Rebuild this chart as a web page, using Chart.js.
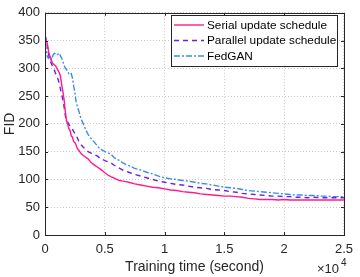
<!DOCTYPE html>
<html>
<head>
<meta charset="utf-8">
<script src="https://cdn.jsdelivr.net/npm/chart.js@4"></script>
<style>
  html, body { margin: 0; padding: 0; background: #fff; overflow: hidden; }
  canvas { display: block; }
</style>
</head>
<body>
<canvas id="fid-chart" width="360" height="277"></canvas>
<script>
// training time (seconds)
const times = [0, 100, 200, 300, 400, 500, 600, 700, 800, 900, 1000, 1100, 1200, 1300, 1400, 1500, 1600, 1700, 1800, 1900,
  2000, 2100, 2200, 2300, 2400, 2500, 2600, 2700, 2800, 2900, 3000, 3200, 3400, 3600, 3800, 4000, 4200, 4400, 4600, 4800,
  5000, 5250, 5500, 5750, 6000, 6250, 6500, 6750, 7000, 7500, 8000, 8500, 9000, 9500, 10000, 10500, 11000, 11500, 12000, 12500,
  13000, 13500, 14000, 14500, 15000, 15500, 16000, 16500, 17000, 17500, 18000, 18500, 19000, 19500, 20000, 20500, 21000, 21500, 22000, 22500,
  23000, 23500, 24000, 24500, 25000];

const serialFid = [356, 350, 344, 330, 322, 318, 310, 308, 306, 304, 300, 296, 292, 285, 270, 258, 243, 222, 205, 200,
  191, 188, 178, 176, 168, 166, 162, 156, 153, 150, 147, 143, 140, 137, 132, 128, 125, 122, 119, 116,
  112, 108, 105, 103, 100, 98, 97, 96, 95, 92, 90, 88, 86, 85, 83, 81, 80, 78, 77, 76,
  74, 73, 72, 71, 70, 70, 69, 68, 66, 65, 64, 64, 64, 63, 64, 63, 63, 63, 63, 63,
  63, 63, 63, 63, 63];

const parallelFid = [360, 352, 340, 325, 315, 310, 305, 300, 296, 290, 286, 280, 272, 262, 253, 242, 230, 215, 206, 203,
  199, 196, 194, 190, 186, 183, 180, 175, 170, 166, 163, 158, 154, 150, 148, 146, 144, 142, 138, 136,
  134, 132, 130, 126, 123, 120, 117, 115, 113, 109, 106, 103, 100, 97, 95, 93, 91, 90, 88, 86,
  85, 84, 82, 81, 80, 78, 77, 75, 74, 73, 72, 71, 70, 70, 69, 69, 68, 68, 67, 68,
  67, 67, 67, 67, 67];

const fedganFid = [345, 335, 320, 318, 322, 316, 320, 325, 327, 326, 324, 326, 327, 322, 318, 312, 305, 300, 298, 294,
  290, 288, 290, 282, 268, 256, 240, 232, 225, 218, 210, 200, 190, 181, 175, 170, 165, 160, 155, 153,
  150, 148, 146, 140, 136, 134, 130, 127, 125, 120, 117, 113, 110, 106, 103, 101, 100, 98, 97, 95,
  93, 92, 90, 88, 86, 85, 84, 82, 80, 79, 78, 77, 76, 75, 74, 73, 72, 72, 71, 71,
  70, 70, 69, 69, 69];

const seriesNames = ["Serial update schedule", "Parallel update schedule", "FedGAN"];
const xTicks = [0, 5000, 10000, 15000, 20000, 25000];
const yTicks = [0, 50, 100, 150, 200, 250, 300, 350, 400];

const FONT = "'Liberation Sans', Arial, Helvetica, sans-serif";
const AXIS_COLOR = "#262626";

const toPoints = (vals) => vals.map((v, i) => ({ x: times[i], y: v }));

// Box with inward ticks, MATLAB style
const boxPlugin = {
  id: "box",
  afterDatasetsDraw(chart) {
    const { ctx, chartArea: a, scales } = chart;
    ctx.save();
    ctx.strokeStyle = AXIS_COLOR;
    ctx.lineWidth = 1;
    ctx.strokeRect(Math.round(a.left) + 0.5, Math.round(a.top) + 0.5,
      Math.round(a.right - a.left), Math.round(a.bottom - a.top));
    const len = 3;
    ctx.beginPath();
    xTicks.forEach((t) => {
      const px = Math.round(scales.x.getPixelForValue(t)) + 0.5;
      ctx.moveTo(px, a.bottom); ctx.lineTo(px, a.bottom - len);
      ctx.moveTo(px, a.top); ctx.lineTo(px, a.top + len);
    });
    yTicks.forEach((t) => {
      const py = Math.round(scales.y.getPixelForValue(t)) + 0.5;
      ctx.moveTo(a.left, py); ctx.lineTo(a.left + len, py);
      ctx.moveTo(a.right, py); ctx.lineTo(a.right - len, py);
    });
    ctx.stroke();

    // exponent label
    ctx.fillStyle = AXIS_COLOR;
    ctx.textBaseline = "alphabetic";
    ctx.textAlign = "left";
    ctx.font = "13px " + FONT;
    ctx.fillText("\u00d710", 317, 273);
    ctx.font = "10px " + FONT;
    ctx.fillText("4", 341, 266);
    ctx.restore();
  },
};

// Legend box drawn inside the plot
const legendPlugin = {
  id: "boxLegend",
  afterDatasetsDraw(chart) {
    const { ctx } = chart;
    const x0 = 171, y0 = 15, w = 166, h = 51;
    const rows = [25, 40.5, 56];
    ctx.save();
    ctx.fillStyle = "#fff";
    ctx.fillRect(x0, y0, w, h);
    ctx.strokeStyle = AXIS_COLOR;
    ctx.lineWidth = 1;
    ctx.strokeRect(x0 + 0.5, y0 + 0.5, w, h);
    chart.data.datasets.forEach((ds, i) => {
      ctx.strokeStyle = ds.borderColor;
      ctx.lineWidth = ds.borderWidth;
      ctx.setLineDash(ds.borderDash || []);
      ctx.beginPath();
      ctx.moveTo(174, rows[i]);
      ctx.lineTo(204, rows[i]);
      ctx.stroke();
      ctx.setLineDash([]);
      ctx.fillStyle = "#000";
      ctx.font = "11.8px " + FONT;
      ctx.textBaseline = "middle";
      ctx.fillText(ds.label, 207, rows[i] + 0.5);
    });
    ctx.restore();
  },
};

const gridOpts = { color: "#c8c8c8", borderDash: [1, 2], drawTicks: false };

const chart = new Chart(document.getElementById("fid-chart"), {
  type: "line",
  data: {
    datasets: [
      {
        label: seriesNames[0],
        data: toPoints(serialFid),
        borderColor: "#ff1a8c",
        borderWidth: 1.4,
        pointRadius: 0,
      },
      {
        label: seriesNames[1],
        data: toPoints(parallelFid),
        borderColor: "#6a1fe6",
        borderWidth: 1.4,
        borderDash: [5, 4],
        pointRadius: 0,
      },
      {
        label: seriesNames[2],
        data: toPoints(fedganFid),
        borderColor: "#3a8cf0",
        borderWidth: 1.4,
        borderDash: [6, 2, 2, 2],
        pointRadius: 0,
      },
    ],
  },
  options: {
    responsive: false,
    animation: false,
    devicePixelRatio: 1,
    layout: { padding: { top: 6, right: 11, left: 0, bottom: 0 } },
    plugins: {
      legend: { display: false },
      tooltip: { enabled: false },
    },
    scales: {
      x: {
        type: "linear",
        min: 0,
        max: 25000,
        afterFit: (s) => { s.height = 42; },
        afterBuildTicks: (s) => { s.ticks = xTicks.map((v) => ({ value: v })); },
        grid: gridOpts,
        border: { display: false, dash: [1, 2] },
        ticks: {
          padding: 7,
          color: AXIS_COLOR,
          font: { family: FONT, size: 13 },
          maxRotation: 0,
          callback: (v) => String(v / 10000),
        },
        title: {
          display: true,
          text: "Training time (second)",
          color: AXIS_COLOR,
          font: { family: FONT, size: 14 },
          padding: { top: 0, bottom: 1 },
        },
      },
      y: {
        min: 0,
        max: 400,
        afterFit: (s) => { s.width = 45; },
        afterBuildTicks: (s) => { s.ticks = yTicks.map((v) => ({ value: v })); },
        grid: gridOpts,
        border: { display: false, dash: [1, 2] },
        ticks: {
          padding: 5,
          color: AXIS_COLOR,
          font: { family: FONT, size: 13 },
        },
        title: {
          display: true,
          text: "FID",
          color: AXIS_COLOR,
          font: { family: FONT, size: 14 },
          padding: { top: 2, bottom: 0 },
        },
      },
    },
  },
  plugins: [boxPlugin, legendPlugin],
});
</script>
</body>
</html>
